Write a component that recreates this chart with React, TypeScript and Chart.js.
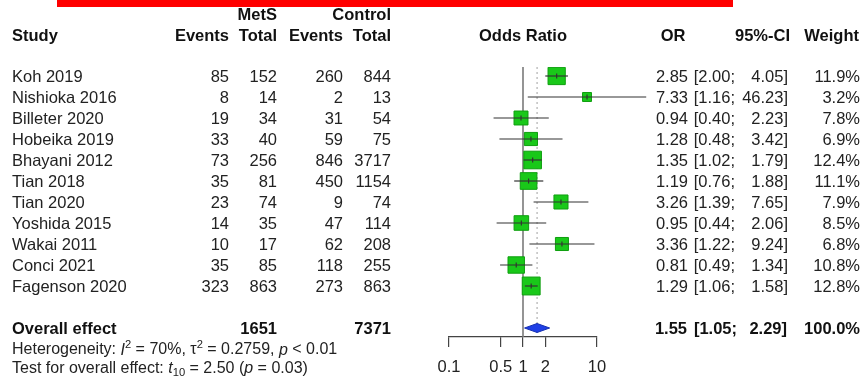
import { useEffect, useRef } from 'react';
import { Chart, registerables } from 'chart.js';

Chart.register(...registerables);

const studies = ['Koh 2019', 'Nishioka 2016', 'Billeter 2020', 'Hobeika 2019', 'Bhayani 2012', 'Tian 2018', 'Tian 2020', 'Yoshida 2015', 'Wakai 2011', 'Conci 2021', 'Fagenson 2020'];
const metsEvents = [85, 8, 19, 33, 73, 35, 23, 14, 10, 35, 323];
const metsTotal = [152, 14, 34, 40, 256, 81, 74, 35, 17, 85, 863];
const ctrlEvents = [260, 2, 31, 59, 846, 450, 9, 47, 62, 118, 273];
const ctrlTotal = [844, 13, 54, 75, 3717, 1154, 74, 114, 208, 255, 863];
const oddsRatio = [2.85, 7.33, 0.94, 1.28, 1.35, 1.19, 3.26, 0.95, 3.36, 0.81, 1.29];
const ciLower = [2.0, 1.16, 0.4, 0.48, 1.02, 0.76, 1.39, 0.44, 1.22, 0.49, 1.06];
const ciUpper = [4.05, 46.23, 2.23, 3.42, 1.79, 1.88, 7.65, 2.06, 9.24, 1.34, 1.58];
const weights = [11.9, 3.2, 7.8, 6.9, 12.4, 11.1, 7.9, 8.5, 6.8, 10.8, 12.8];

const overallLabel = 'Overall effect';
const overallOR = 1.55;
const overallLower = 1.05;
const overallUpper = 2.29;
const overallWeight = 100.0;
const overallMetsTotal = 1651;
const overallCtrlTotal = 7371;

const tickValues = [0.1, 0.5, 1, 2, 10];
const tickLabels = ['0.1', '0.5', '1', '2', '10'];

const FONT = '"Liberation Sans", Arial, Helvetica, sans-serif';
const TXT = '#222222';
const FS = 16.5;

type Seg = { t: string; style?: 'i' | 'sup' | 'sub' };

export default function App() {
  const ref = useRef<HTMLCanvasElement>(null);

  useEffect(() => {
    const canvas = ref.current!;
    const overallRow = studies.length + 1;

    const text = (ctx: CanvasRenderingContext2D, s: string, x: number, y: number, align: CanvasTextAlign, bold = false, size = FS) => {
      ctx.save();
      ctx.font = `${bold ? 'bold ' : ''}${size}px ${FONT}`;
      ctx.fillStyle = bold ? '#111111' : TXT;
      ctx.textAlign = align;
      ctx.textBaseline = 'middle';
      ctx.fillText(s, x, y);
      ctx.restore();
    };

    const rich = (ctx: CanvasRenderingContext2D, segs: Seg[], x: number, y: number, size: number) => {
      let cx = x;
      ctx.save();
      ctx.fillStyle = TXT;
      ctx.textAlign = 'left';
      ctx.textBaseline = 'middle';
      for (const s of segs) {
        let sz = size;
        let dy = 0;
        let it = false;
        if (s.style === 'i') it = true;
        if (s.style === 'sup') { sz = size * 0.7; dy = -size * 0.35; }
        if (s.style === 'sub') { sz = size * 0.7; dy = size * 0.3; }
        ctx.font = `${it ? 'italic ' : ''}${sz}px ${FONT}`;
        ctx.fillText(s.t, cx, y + dy);
        cx += ctx.measureText(s.t).width;
      }
      ctx.restore();
    };

    const forest = {
      id: 'forest',
      beforeDatasetsDraw(chart: any) {
        const { ctx, chartArea, scales } = chart;
        const x = scales.x;
        const y = scales.y;
        ctx.save();
        // red band at top
        ctx.fillStyle = '#ff0000';
        ctx.fillRect(57, 0, 676, 7);
        // line of no effect
        const x1 = x.getPixelForValue(1);
        ctx.strokeStyle = '#7a7a7a';
        ctx.lineWidth = 1.6;
        ctx.beginPath();
        ctx.moveTo(x1, chartArea.top);
        ctx.lineTo(x1, chartArea.bottom);
        ctx.stroke();
        // overall dotted line
        const xo = x.getPixelForValue(overallOR);
        ctx.strokeStyle = '#b0b0b0';
        ctx.lineWidth = 1.2;
        ctx.setLineDash([2, 3]);
        ctx.beginPath();
        ctx.moveTo(xo, chartArea.top);
        ctx.lineTo(xo, y.getPixelForValue(overallRow) + 5);
        ctx.stroke();
        ctx.restore();
      },
      afterDatasetsDraw(chart: any) {
        const { ctx, scales } = chart;
        const x = scales.x;
        const y = scales.y;
        ctx.save();
        // CI lines
        ctx.strokeStyle = '#333333';
        ctx.lineWidth = 1.2;
        studies.forEach((_, i) => {
          const py = y.getPixelForValue(i);
          ctx.beginPath();
          ctx.moveTo(x.getPixelForValue(ciLower[i]), py);
          ctx.lineTo(x.getPixelForValue(ciUpper[i]), py);
          ctx.stroke();
          const px = x.getPixelForValue(oddsRatio[i]);
          ctx.beginPath();
          ctx.moveTo(px, py - 2.5);
          ctx.lineTo(px, py + 2.5);
          ctx.stroke();
        });
        // diamond
        const yo = y.getPixelForValue(overallRow);
        const h = 4.5;
        ctx.beginPath();
        ctx.moveTo(x.getPixelForValue(overallLower), yo);
        ctx.lineTo(x.getPixelForValue(overallOR), yo - h);
        ctx.lineTo(x.getPixelForValue(overallUpper), yo);
        ctx.lineTo(x.getPixelForValue(overallOR), yo + h);
        ctx.closePath();
        ctx.fillStyle = '#1f3fe6';
        ctx.fill();
        ctx.strokeStyle = '#1530b0';
        ctx.lineWidth = 1;
        ctx.stroke();
        ctx.restore();

        // headers
        const yH1 = y.getPixelForValue(-2.9);
        const yH2 = y.getPixelForValue(-1.86);
        text(ctx, 'MetS', 277, yH1, 'right', true);
        text(ctx, 'Control', 391, yH1, 'right', true);
        text(ctx, 'Study', 12, yH2, 'left', true);
        text(ctx, 'Events', 229, yH2, 'right', true);
        text(ctx, 'Total', 277, yH2, 'right', true);
        text(ctx, 'Events', 343, yH2, 'right', true);
        text(ctx, 'Total', 391, yH2, 'right', true);
        text(ctx, 'Odds Ratio', x.getPixelForValue(1), yH2, 'center', true);
        text(ctx, 'OR', 673, yH2, 'center', true);
        text(ctx, '95%-CI', 790, yH2, 'right', true);
        text(ctx, 'Weight', 859, yH2, 'right', true);

        // study rows
        studies.forEach((s, i) => {
          const py = y.getPixelForValue(i) + 1;
          text(ctx, s, 12, py, 'left');
          text(ctx, String(metsEvents[i]), 229, py, 'right');
          text(ctx, String(metsTotal[i]), 277, py, 'right');
          text(ctx, String(ctrlEvents[i]), 343, py, 'right');
          text(ctx, String(ctrlTotal[i]), 391, py, 'right');
          text(ctx, oddsRatio[i].toFixed(2), 688, py, 'right');
          text(ctx, '[' + ciLower[i].toFixed(2) + ';', 735, py, 'right');
          text(ctx, ciUpper[i].toFixed(2) + ']', 788, py, 'right');
          text(ctx, weights[i].toFixed(1) + '%', 860, py, 'right');
        });

        // overall row
        const po = yo + 1;
        text(ctx, overallLabel, 12, po, 'left', true);
        text(ctx, String(overallMetsTotal), 277, po, 'right', true);
        text(ctx, String(overallCtrlTotal), 391, po, 'right', true);
        text(ctx, overallOR.toFixed(2), 687, po, 'right', true);
        text(ctx, '[' + overallLower.toFixed(2) + ';', 737, po, 'right', true);
        text(ctx, overallUpper.toFixed(2) + ']', 787, po, 'right', true);
        text(ctx, overallWeight.toFixed(1) + '%', 860, po, 'right', true);

        // heterogeneity & test
        const hs = 16;
        rich(ctx, [
          { t: 'Heterogeneity: ' }, { t: 'I', style: 'i' }, { t: '2', style: 'sup' },
          { t: ' = 70%, ' }, { t: '\u03c4' }, { t: '2', style: 'sup' },
          { t: ' = 0.2759, ' }, { t: 'p', style: 'i' }, { t: ' < 0.01' },
        ], 12, y.getPixelForValue(13.05), hs);
        rich(ctx, [
          { t: 'Test for overall effect: ' }, { t: 't', style: 'i' }, { t: '10', style: 'sub' },
          { t: ' = 2.50 (' }, { t: 'p', style: 'i' }, { t: ' = 0.03)' },
        ], 12, y.getPixelForValue(13.92), hs);
      },
    };

    const points = studies.map((_, i) => ({ x: oddsRatio[i], y: i }));
    const radii = weights.map((w) => (5 * Math.sqrt(w)) / Math.SQRT2);

    const chart = new Chart(canvas, {
      type: 'scatter',
      data: {
        datasets: [
          {
            data: points,
            pointStyle: 'rect',
            pointRadius: radii,
            pointBackgroundColor: '#19c819',
            pointBorderColor: '#0f9f0f',
            pointBorderWidth: 1,
          },
        ],
      },
      options: {
        responsive: false,
        animation: false,
        events: [],
        layout: { padding: { left: 449, right: 266, top: 67, bottom: 0 } },
        plugins: { legend: { display: false }, tooltip: { enabled: false } },
        scales: {
          x: {
            type: 'logarithmic',
            min: 0.1,
            max: 10,
            position: 'bottom',
            afterBuildTicks: (scale: any) => {
              scale.ticks = tickValues.map((v) => ({ value: v }));
            },
            afterFit: (scale: any) => {
              scale.height = 40;
            },
            grid: { drawOnChartArea: false, drawTicks: true, tickLength: 10, color: '#444444', lineWidth: 1.2 },
            border: { display: true, color: '#444444', width: 1.2 },
            ticks: {
              autoSkip: false,
              maxRotation: 0,
              padding: 11,
              color: TXT,
              font: { family: FONT, size: FS },
              callback: (v: any) => {
                const idx = tickValues.indexOf(Number(v));
                return idx >= 0 ? tickLabels[idx] : '';
              },
            },
          },
          y: {
            type: 'linear',
            display: false,
            reverse: true,
            min: -9 / 21,
            max: -9 / 21 + 270 / 21,
          },
        },
      },
      plugins: [forest],
    });
    return () => chart.destroy();
  }, []);

  return (
    <div style={{ position: 'fixed', left: 0, top: 0, width: 863, height: 377, background: '#ffffff' }}>
      <canvas ref={ref} width={863} height={377} style={{ display: 'block', width: 863, height: 377 }} />
    </div>
  );
}
